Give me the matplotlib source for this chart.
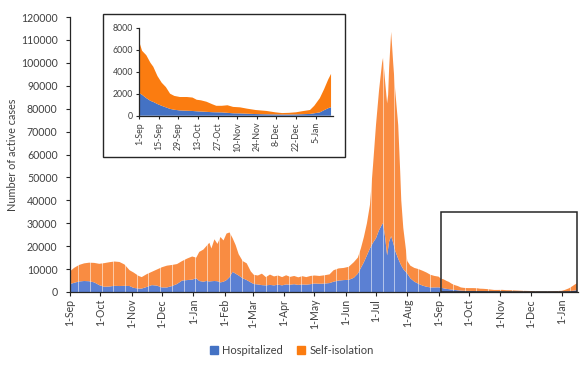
import matplotlib
matplotlib.use('Agg')
import matplotlib.pyplot as plt
import matplotlib.dates as mdates
import numpy as np
import pandas as pd
from matplotlib.patches import Rectangle, Patch

plt.rcParams['font.family'] = ['Lato', 'DejaVu Sans']

# ---------------- data ----------------
wave_dates = ['2020-09-01', '2020-09-05', '2020-09-10', '2020-09-15', '2020-09-20', '2020-09-25',
              '2020-09-30', '2020-10-05', '2020-10-10', '2020-10-15', '2020-10-20', '2020-10-25',
              '2020-10-30', '2020-11-03', '2020-11-08', '2020-11-11', '2020-11-16', '2020-11-21',
              '2020-11-26', '2020-12-01', '2020-12-06', '2020-12-11', '2020-12-16', '2020-12-21',
              '2020-12-26', '2020-12-31', '2021-01-04', '2021-01-07', '2021-01-11', '2021-01-14',
              '2021-01-17', '2021-01-19', '2021-01-22', '2021-01-25', '2021-01-28', '2021-01-31',
              '2021-02-03', '2021-02-06', '2021-02-09', '2021-02-12', '2021-02-15', '2021-02-19',
              '2021-02-23', '2021-02-27', '2021-03-02', '2021-03-06', '2021-03-10', '2021-03-14',
              '2021-03-18', '2021-03-22', '2021-03-26', '2021-03-30', '2021-04-03', '2021-04-07',
              '2021-04-11', '2021-04-15', '2021-04-19', '2021-04-23', '2021-04-27', '2021-05-01',
              '2021-05-06', '2021-05-11', '2021-05-16', '2021-05-20', '2021-05-25', '2021-05-30',
              '2021-06-04', '2021-06-09', '2021-06-13', '2021-06-16', '2021-06-19', '2021-06-22',
              '2021-06-25', '2021-06-28', '2021-07-01', '2021-07-04', '2021-07-07', '2021-07-08',
              '2021-07-10', '2021-07-12', '2021-07-13', '2021-07-14', '2021-07-16', '2021-07-18',
              '2021-07-20', '2021-07-23', '2021-07-25', '2021-07-26', '2021-07-28', '2021-08-01',
              '2021-08-04', '2021-08-08', '2021-08-12', '2021-08-16', '2021-08-20', '2021-08-24',
              '2021-08-28']
wave_hosp = [3500, 4000, 4600, 4800, 4700, 4200,
             3000, 2300, 2400, 2700, 2600, 2700,
             2600, 1800, 1500, 1500, 2200, 3000,
             2800, 2000, 2000, 2600, 3500, 5000,
             5200, 5400, 6000, 4800, 4500, 4800,
             4600, 4700, 4800, 4700, 4200, 4500,
             5200, 6500, 8800, 8000, 7200, 6000,
             5200, 4200, 3500, 3300, 3000, 2900,
             3100, 2900, 3200, 2900, 3300, 3200,
             3400, 3100, 3300, 3200, 3400, 3700,
             3600, 3700, 3900, 4500, 5000, 5200,
             5300, 6200, 8000, 10500, 13000, 16000,
             19000, 21500, 23500, 27000, 29500, 30000,
             24000, 16000, 19000, 22000, 24400, 21500,
             18000, 14500, 12500, 11500, 10000, 8000,
             6000, 4500, 3600, 2800, 2300, 2000,
             2000]
wave_self = [5500, 6500, 7200, 7700, 8100, 8500,
             9300, 10300, 10600, 10600, 10500, 9300,
             6900, 6700, 5500, 5000, 5600, 5800,
             7000, 8800, 9500, 9200, 8700, 8500,
             9400, 10100, 9000, 12700, 14000, 15200,
             16900, 14300, 18200, 16300, 19800, 18000,
             20300, 19500, 14700, 12500, 9300, 7500,
             7300, 4800, 4000, 3900, 5000, 3600,
             4500, 3900, 4000, 3600, 4000, 3400,
             3600, 3300, 3600, 3300, 3600, 3500,
             3400, 3600, 3800, 5000, 5300, 5300,
             5700, 6800, 7000, 8500, 11000, 14000,
             19000, 33500, 49500, 61000, 70500, 72200,
             68000, 66300, 67000, 76000, 89100, 78500,
             70000, 58300, 39500, 28500, 18000, 5500,
             5500, 6000, 6400, 6500, 6200, 5500,
             5000]

recent_dates = ['2021-09-01', '2021-09-03', '2021-09-06', '2021-09-09', '2021-09-11', '2021-09-14',
                '2021-09-17', '2021-09-20', '2021-09-23', '2021-09-26', '2021-09-30', '2021-10-05',
                '2021-10-09', '2021-10-12', '2021-10-15', '2021-10-19', '2021-10-23', '2021-10-26',
                '2021-10-30', '2021-11-03', '2021-11-07', '2021-11-12', '2021-11-17', '2021-11-23',
                '2021-12-01', '2021-12-07', '2021-12-12', '2021-12-17', '2021-12-22', '2021-12-27',
                '2022-01-01', '2022-01-04', '2022-01-08', '2022-01-11', '2022-01-14', '2022-01-16']
recent_hosp = [2050, 1900, 1600, 1350, 1250, 1060,
               900, 760, 620, 540, 480, 450,
               430, 400, 380, 350, 320, 310,
               300, 260, 220, 210, 180, 150,
               130, 120, 110, 110, 120, 140,
               160, 220, 300, 500, 680, 780]
recent_self = [4650, 4000, 3900, 3450, 3200, 2540,
               2100, 1840, 1380, 1260, 1220, 1250,
               1220, 1050, 1020, 920, 730, 590,
               600, 690, 580, 550, 460, 370,
               300, 190, 130, 150, 190, 280,
               360, 680, 1300, 1900, 2620, 3020]

series_names = ['Hospitalized', 'Self-isolation']

main_tick_dates = ['2020-09-01', '2020-10-01', '2020-11-01', '2020-12-01', '2021-01-01', '2021-02-01',
                   '2021-03-01', '2021-04-01', '2021-05-01', '2021-06-01', '2021-07-01', '2021-08-01',
                   '2021-09-01', '2021-10-01', '2021-11-01', '2021-12-01', '2022-01-01']
main_tick_labels = ['1-Sep', '1-Oct', '1-Nov', '1-Dec', '1-Jan', '1-Feb', '1-Mar', '1-Apr', '1-May',
                    '1-Jun', '1-Jul', '1-Aug', '1-Sep', '1-Oct', '1-Nov', '1-Dec', '1-Jan']
inset_tick_dates = ['2021-09-01', '2021-09-15', '2021-09-29', '2021-10-13', '2021-10-27', '2021-11-10',
                    '2021-11-24', '2021-12-08', '2021-12-22', '2022-01-05']
inset_tick_labels = ['1-Sep', '15-Sep', '29-Sep', '13-Oct', '27-Oct', '10-Nov', '24-Nov', '8-Dec',
                     '22-Dec', '5-Jan']

# ---------------- style ----------------
BLUE_MAIN = '#5B80D3'
ORANGE_MAIN = '#F98C42'
BLUE_IN = '#4472C4'
ORANGE_IN = '#FB7C10'
TXT = '#404040'
AXC = '#262626'

W, H = 587, 367


def fr(x0, y0, x1, y1):
    return [x0 / W, 1 - y1 / H, (x1 - x0) / W, (y1 - y0) / H]


def dn(lst):
    return mdates.date2num(pd.to_datetime(lst))


fig = plt.figure(figsize=(W / 100, H / 100), dpi=100)

# ---------------- main axes ----------------
ax = fig.add_axes(fr(70, 17, 578, 292))
ax.set_zorder(0)
x_main = dn(wave_dates + recent_dates)
ax.stackplot(x_main, wave_hosp + recent_hosp, wave_self + recent_self,
             colors=[BLUE_MAIN, ORANGE_MAIN], linewidth=0, zorder=1)
x0 = dn(['2020-09-01'])[0]
ax.set_xlim(x0, x0 + 503)
ax.set_ylim(0, 120000)
ax.set_yticks(np.arange(0, 120001, 10000))
ax.set_xticks(dn(main_tick_dates))
ax.set_xticklabels(main_tick_labels, rotation=90)
ax.tick_params(axis='both', direction='out', length=3, width=0.8, color=AXC,
               labelsize=7.6, labelcolor=TXT, pad=2)
ax.tick_params(axis='y', pad=6)
for s in ['top', 'right']:
    ax.spines[s].set_visible(False)
for s in ['left', 'bottom']:
    ax.spines[s].set_color(AXC)
    ax.spines[s].set_linewidth(0.9)
ax.set_ylabel('Number of active cases', fontsize=7.8, color=TXT, labelpad=2)

# faint light stripes like the original rendering
end_data = dn(['2022-01-16'])[0]
for d in np.arange(x0 + 8, end_data, 11.6):
    ax.axvline(d, color='white', lw=0.7, alpha=0.55, zorder=1.5)

# box marking the zoomed region
rx0 = dn(['2021-09-03'])[0]
ax.add_patch(Rectangle((rx0, 0), end_data + 0.5 - rx0, 35000, fill=False,
                       ec=AXC, lw=1.1, zorder=3, clip_on=False))

# legend
handles = [Patch(color=BLUE_IN), Patch(color=ORANGE_IN)]
fig.legend(handles, series_names, loc='center', bbox_to_anchor=(0.497, 1 - 350 / H),
           ncol=2, frameon=False, fontsize=8, handlelength=0.7, handleheight=0.7,
           handletextpad=0.4, columnspacing=1.3, labelcolor=TXT)

# ---------------- inset ----------------
frame = Rectangle((103 / W, 1 - 157 / H), 242 / W, 143 / H, transform=fig.transFigure,
                  fc='white', ec=AXC, lw=1.0, zorder=2)
fig.add_artist(frame)

axi = fig.add_axes(fr(139.3, 27.7, 333, 115.7))
axi.set_zorder(3)
xi = dn(recent_dates)
axi.stackplot(xi, recent_hosp, recent_self, colors=[BLUE_IN, ORANGE_IN], linewidth=0)
xi0 = dn(['2021-09-01'])[0]
axi.set_xlim(xi0, xi0 + 138.4)
axi.set_ylim(0, 8000)
axi.set_yticks(np.arange(0, 8001, 2000))
axi.set_xticks(dn(inset_tick_dates))
axi.set_xticklabels(inset_tick_labels, rotation=90)
axi.tick_params(axis='both', direction='out', length=2.5, width=0.8, color=AXC,
                labelsize=6.3, labelcolor=TXT, pad=2)
for s in ['top', 'right']:
    axi.spines[s].set_visible(False)
for s in ['left', 'bottom']:
    axi.spines[s].set_color(AXC)
    axi.spines[s].set_linewidth(0.9)
axi.patch.set_alpha(0)

fig.savefig('out.png', dpi=100)
